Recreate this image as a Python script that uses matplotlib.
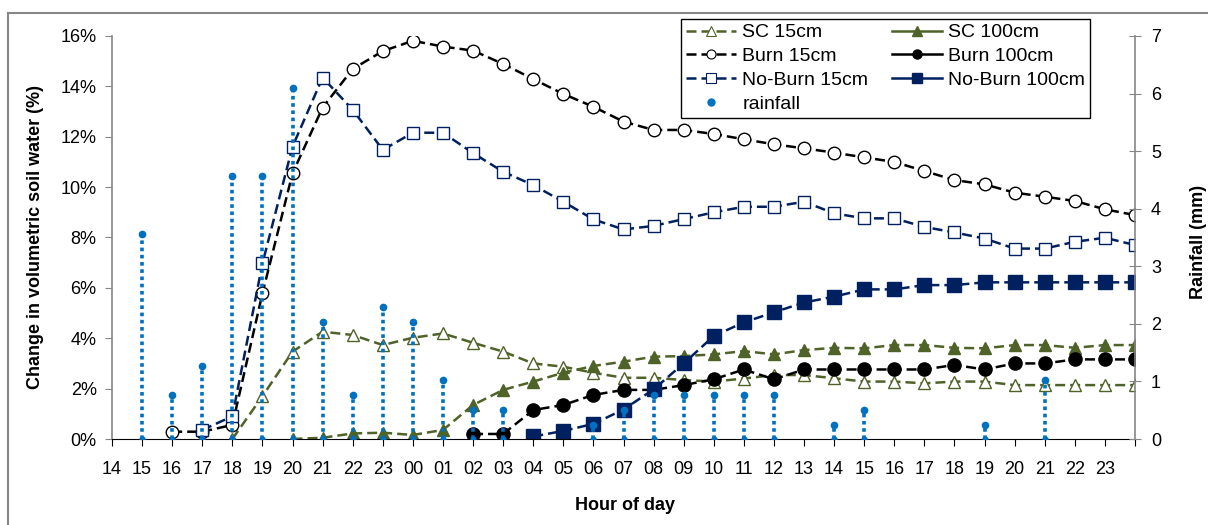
import numpy as np
import matplotlib
matplotlib.use('Agg')
import matplotlib.pyplot as plt
from matplotlib.ticker import PercentFormatter
from matplotlib.lines import Line2D

plt.rcParams['font.family'] = ['Liberation Sans', 'DejaVu Sans']

# hour labels, 14h on day 1 through 23h on day 2 (last slot is unlabelled 00h)
hours = [str(h) for h in range(14, 24)] + ['%02d' % h for h in range(24)] + ['']

nan = np.nan
# change in volumetric soil water (%)
sc_15 = [nan, nan, nan, nan, 0.0, 1.7, 3.47, 4.26, 4.13, 3.73, 4.02, 4.19, 3.82, 3.47, 3.0,
         2.87, 2.63, 2.43, 2.43, 2.34, 2.28, 2.4, 2.54, 2.54, 2.41, 2.28, 2.28, 2.21, 2.28,
         2.28, 2.14, 2.14, 2.14, 2.14, 2.14]
sc_100 = [nan, nan, nan, nan, nan, nan, 0.0, 0.05, 0.22, 0.25, 0.16, 0.36, 1.35, 1.95, 2.28,
          2.63, 2.9, 3.07, 3.27, 3.29, 3.36, 3.49, 3.36, 3.53, 3.62, 3.6, 3.73, 3.73, 3.62,
          3.6, 3.73, 3.73, 3.62, 3.73, 3.73]
burn_15 = [nan, nan, 0.29, 0.29, 0.56, 5.78, 10.55, 13.16, 14.69, 15.4, 15.81, 15.58, 15.42,
           14.89, 14.29, 13.7, 13.19, 12.6, 12.27, 12.27, 12.11, 11.9, 11.7, 11.54, 11.37,
           11.18, 11.0, 10.64, 10.28, 10.11, 9.78, 9.62, 9.45, 9.12, 8.89]
burn_100 = [nan] * 12 + [0.2, 0.2, 1.15, 1.35, 1.75, 1.95, 1.95, 2.14, 2.37, 2.76, 2.37, 2.76,
                         2.76, 2.76, 2.76, 2.76, 2.94, 2.76, 3.0, 3.0, 3.16, 3.16, 3.16]
noburn_15 = [nan, nan, nan, 0.36, 0.9, 6.97, 11.61, 14.35, 13.07, 11.48, 12.16, 12.16, 11.35,
             10.61, 10.08, 9.42, 8.72, 8.32, 8.46, 8.73, 9.0, 9.22, 9.22, 9.42, 8.96, 8.76,
             8.76, 8.42, 8.2, 7.96, 7.56, 7.56, 7.83, 7.99, 7.7]
noburn_100 = [nan] * 14 + [0.1, 0.32, 0.6, 1.17, 1.97, 3.0, 4.09, 4.63, 5.03, 5.42, 5.65, 5.94,
                           5.94, 6.11, 6.11, 6.22, 6.22, 6.22, 6.22, 6.22, 6.22]

# rainfall (mm), hour slots with rain only
rain_idx = [1, 2, 3, 4, 5, 6, 7, 8, 9, 10, 11, 12, 13, 16, 17, 18, 19, 20, 21, 22, 24, 25, 29, 31]
rain_mm = [3.56, 0.76, 1.27, 4.57, 4.57, 6.10, 2.03, 0.76, 2.29, 2.03, 1.02, 0.51, 0.51, 0.25,
           0.51, 0.76, 0.76, 0.76, 0.76, 0.76, 0.25, 0.51, 0.25, 1.02]

olive = '#4F6228'
navy = '#002060'
rainblue = '#0070C0'
grey = '#868686'

x = np.arange(len(hours))

fig = plt.figure(figsize=(12.08, 5.25), dpi=100)
ax = fig.add_axes([112 / 1208, 1 - 439 / 525, 1023 / 1208, 403 / 525])
ax2 = ax.twinx()

ls = (0, (4, 2))
ax.plot(x, np.array(sc_15) / 100, ls=ls, color=olive, lw=1.8, marker='^', ms=9,
        mfc='white', mec=olive, mew=1)
ax.plot(x, np.array(burn_15) / 100, ls=ls, color='black', lw=1.8, marker='o', ms=9,
        mfc='white', mec='black', mew=1)
ax.plot(x, np.array(noburn_15) / 100, ls=ls, color=navy, lw=1.8, marker='s', ms=9,
        mfc='white', mec=navy, mew=1)
ax.plot(x, np.array(sc_100) / 100, ls=ls, color=olive, lw=1.8, marker='^', ms=9,
        mfc=olive, mec=olive)
ax.plot(x, np.array(burn_100) / 100, ls=ls, color='black', lw=1.8, marker='o', ms=9.5,
        mfc='black', mec='black')
ax.plot(x, np.array(noburn_100) / 100, ls=ls, color=navy, lw=1.8, marker='s', ms=9.5,
        mfc=navy, mec=navy)

# rainfall: dotted stems down to zero with a dot on top
rx = np.array(rain_idx)
ry = np.array(rain_mm)
ax2.vlines(rx, 0, ry, colors=rainblue, lw=2.6, linestyles=(0, (1, 1)))
ax2.plot(rx, ry, ls='none', marker='o', ms=4.5, color=rainblue)
ax2.plot(rx, np.zeros_like(ry), ls='none', marker='o', ms=3.5, color=rainblue)

ax.set_xlim(0, 34)
ax.set_ylim(0, 0.16)
ax2.set_ylim(0, 7)
ax.set_xticks(x)
ax.set_xticklabels(hours)
ax.set_yticks(np.arange(0, 0.161, 0.02))
ax.yaxis.set_major_formatter(PercentFormatter(1.0, decimals=0))
ax2.set_yticks(range(0, 8))

for a in (ax, ax2):
    a.spines['top'].set_visible(False)
ax.spines['right'].set_visible(False)
ax.spines['left'].set_color(grey)
ax.spines['bottom'].set_color('black')
ax2.spines['left'].set_visible(False)
ax2.spines['bottom'].set_visible(False)
ax2.spines['right'].set_color(grey)
ax.spines['left'].set_linewidth(1.2)
ax2.spines['right'].set_linewidth(1.2)

ax.tick_params(axis='x', direction='out', length=5, pad=11, labelsize=13, colors='black')
ax.tick_params(axis='y', direction='out', length=5, pad=6, labelsize=13, color=grey,
               labelcolor='black')
ax2.tick_params(axis='y', direction='inout', length=9, pad=7, labelsize=13, color=grey,
                labelcolor='black')

ax.set_xlabel('Hour of day', fontsize=13, fontweight='bold')
ax.set_ylabel('Change in volumetric soil water (%)', fontsize=13, fontweight='bold')
ax2.set_ylabel('Rainfall (mm)', fontsize=13, fontweight='bold')
ax.xaxis.set_label_coords(0.501, -0.144)
ax.yaxis.set_label_coords(-0.066, 0.5)
ax2.yaxis.set_label_coords(1.054, 0.49)

# legend: 15cm series and rainfall in the first column, 100cm series (solid keys) in the second
h_rain = Line2D([], [], ls='none', marker='o', ms=5, color=rainblue, label='rainfall')
h_sc100 = Line2D([], [], ls='-', lw=1.8, color=olive, marker='^', ms=6.5, label='SC 100cm')
h_b100 = Line2D([], [], ls='-', lw=1.8, color='black', marker='o', ms=6.5, label='Burn 100cm')
h_nb100 = Line2D([], [], ls='-', lw=1.8, color=navy, marker='s', ms=6.5,
                 label='No-Burn 100cm')
k_sc15 = Line2D([], [], ls=ls, lw=1.8, color=olive, marker='^', ms=6.5, mfc='white',
                mew=0.8, label='SC 15cm')
k_b15 = Line2D([], [], ls=ls, lw=1.8, color='black', marker='o', ms=6.5, mfc='white',
               mew=0.8, label='Burn 15cm')
k_nb15 = Line2D([], [], ls=ls, lw=1.8, color=navy, marker='s', ms=6.5, mfc='white',
                mew=0.8, label='No-Burn 15cm')
handles = [k_sc15, k_b15, k_nb15, h_rain, h_sc100, h_b100, h_nb100]
labels = [h.get_label() for h in handles]
leg = ax2.legend(handles, labels, ncol=2, loc='upper left',
                 bbox_to_anchor=(681 / 1208, 1 - 19 / 525), bbox_transform=fig.transFigure,
                 borderaxespad=0, fontsize=14, frameon=True, fancybox=False,
                 edgecolor='black', framealpha=1, handlelength=2.6, handletextpad=0.3,
                 columnspacing=1.2, labelspacing=0.32, borderpad=0.25)
leg.get_frame().set_linewidth(1.0)

# chart area border
fig.add_artist(Line2D([8 / 1208, 8 / 1208], [0, 1 - 13 / 525], color=grey, lw=1.5,
                      transform=fig.transFigure))
fig.add_artist(Line2D([8 / 1208, 1], [1 - 13 / 525, 1 - 13 / 525], color=grey, lw=1.5,
                      transform=fig.transFigure))

fig.savefig('out.png', dpi=100)
